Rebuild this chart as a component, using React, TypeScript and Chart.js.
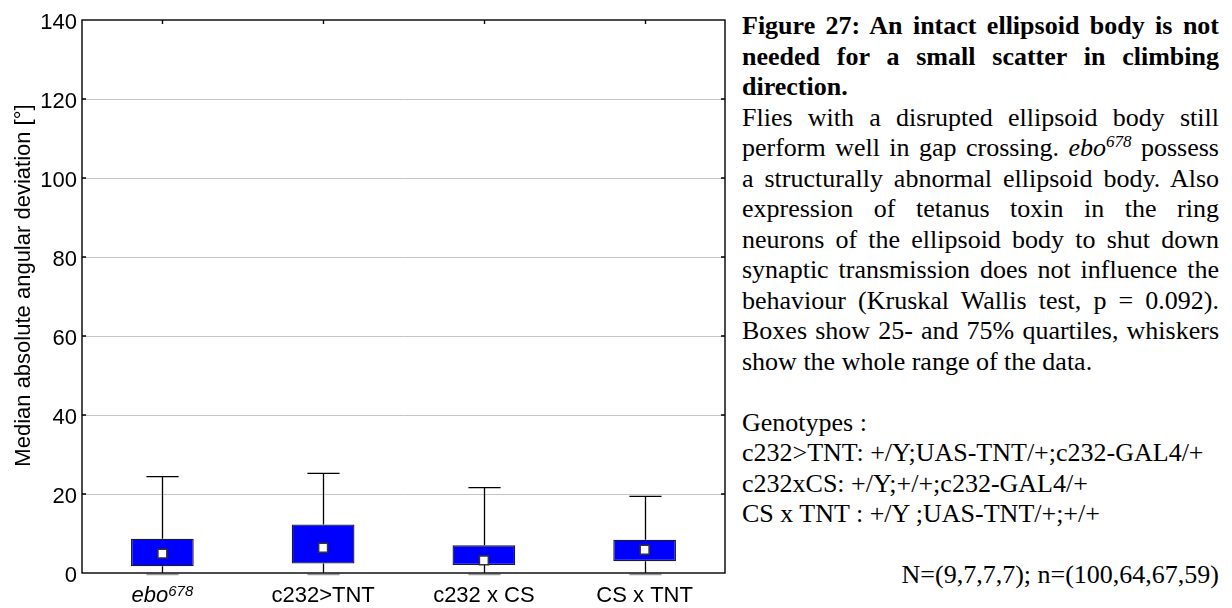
import React, { useEffect, useRef } from "react";
import { Chart, registerables } from "chart.js";

Chart.register(...registerables);

// ---------- data ----------
const categories = ["ebo678", "c232>TNT", "c232 x CS", "CS x TNT"];
const whiskerMin = [0, 0, 0, 0];
const quartile1 = [1.7, 2.4, 2.0, 3.0];
const medians = [4.9, 6.4, 3.2, 5.9];
const quartile3 = [8.7, 12.3, 7.0, 8.4];
const whiskerMax = [24.4, 25.2, 21.6, 19.4];
const yTicks = [0, 20, 40, 60, 80, 100, 120, 140];
const yAxisTitle = "Median absolute angular deviation [°]";

const captionTitle = [
  "Figure 27: An intact ellipsoid body is not",
  "needed for a small scatter in climbing",
  "direction.",
];
const captionBody = [
  "Flies with a disrupted ellipsoid body still",
  "perform well in gap crossing. |ebo|678| possess",
  "a structurally abnormal ellipsoid body. Also",
  "expression of tetanus toxin in the ring",
  "neurons of the ellipsoid body to shut down",
  "synaptic transmission does not influence the",
  "behaviour (Kruskal Wallis test, p = 0.092).",
  "Boxes show 25- and 75% quartiles, whiskers",
];
const captionBodyLast = "show the whole range of the data.";
const genotypeLines = [
  "Genotypes :",
  "c232>TNT: +/Y;UAS-TNT/+;c232-GAL4/+",
  "c232xCS: +/Y;+/+;c232-GAL4/+",
  "CS x TNT : +/Y ;UAS-TNT/+;+/+",
];
const sampleSizes = "N=(9,7,7,7); n=(100,64,67,59)";

const SANS = '"Liberation Sans", Arial, Helvetica, sans-serif';
const SERIF = '"Liberation Serif", "Times New Roman", Times, serif';

const whiskerPlugin = {
  id: "whiskers",
  beforeDatasetsDraw(chart: any) {
    const { ctx } = chart;
    const x = chart.scales.x;
    const y = chart.scales.y;
    const capHalf = (x.width / categories.length) * 0.1;
    ctx.save();
    categories.forEach((_, i) => {
      const px = Math.round(x.getPixelForValue(i)) + 0.5;
      ctx.strokeStyle = "#000";
      ctx.lineWidth = 1.3;
      ctx.beginPath();
      ctx.moveTo(px, y.getPixelForValue(whiskerMin[i]));
      ctx.lineTo(px, y.getPixelForValue(quartile1[i]));
      ctx.moveTo(px, y.getPixelForValue(quartile3[i]));
      ctx.lineTo(px, y.getPixelForValue(whiskerMax[i]));
      const yMax = y.getPixelForValue(whiskerMax[i]);
      ctx.moveTo(px - capHalf, yMax);
      ctx.lineTo(px + capHalf, yMax);
      ctx.stroke();
      const yMin = y.getPixelForValue(whiskerMin[i]) + 1.5;
      ctx.strokeStyle = "#9a9a9a";
      ctx.lineWidth = 1.5;
      ctx.beginPath();
      ctx.moveTo(px - capHalf, yMin);
      ctx.lineTo(px + capHalf, yMin);
      ctx.stroke();
    });
    ctx.restore();
  },
};

const framePlugin = {
  id: "frame",
  afterDraw(chart: any) {
    const { ctx, chartArea } = chart;
    const { left, right, top, bottom } = chartArea;
    const x = chart.scales.x;
    const y = chart.scales.y;
    ctx.save();
    ctx.strokeStyle = "#000";
    ctx.lineWidth = 1.4;
    ctx.strokeRect(left, top, right - left, bottom - top);
    ctx.beginPath();
    categories.forEach((_, i) => {
      const px = Math.round(x.getPixelForValue(i)) + 0.5;
      ctx.moveTo(px, top);
      ctx.lineTo(px, top + 4);
    });
    yTicks.forEach((v) => {
      if (v <= 0 || v >= 140) return;
      const py = y.getPixelForValue(v);
      ctx.moveTo(right, py);
      ctx.lineTo(right - 4, py);
      ctx.moveTo(left, py);
      ctx.lineTo(left + 4, py);
    });
    ctx.stroke();

    // category labels
    ctx.fillStyle = "#000";
    ctx.textBaseline = "alphabetic";
    const baseY = 602;
    categories.forEach((label, i) => {
      const px = x.getPixelForValue(i);
      if (i === 0) {
        const main = label.slice(0, 3);
        const sup = label.slice(3);
        ctx.font = `italic 22px ${SANS}`;
        const w1 = ctx.measureText(main).width;
        ctx.font = `italic 15px ${SANS}`;
        const w2 = ctx.measureText(sup).width;
        const start = px - (w1 + w2) / 2;
        ctx.textAlign = "left";
        ctx.font = `italic 22px ${SANS}`;
        ctx.fillText(main, start, baseY);
        ctx.font = `italic 15px ${SANS}`;
        ctx.fillText(sup, start + w1, baseY - 6);
      } else {
        ctx.font = `22px ${SANS}`;
        ctx.textAlign = "center";
        ctx.fillText(label, px, baseY);
      }
    });

    // y axis title
    ctx.translate(24, 285.5);
    ctx.rotate(-Math.PI / 2);
    ctx.font = `22px ${SANS}`;
    ctx.textAlign = "center";
    ctx.textBaseline = "middle";
    ctx.fillText(yAxisTitle, 0, 0);
    ctx.restore();
  },
};

function ChartPanel() {
  const ref = useRef<HTMLCanvasElement | null>(null);
  useEffect(() => {
    if (!ref.current) return;
    const chart = new Chart(ref.current, {
      type: "bar",
      data: {
        labels: categories,
        datasets: [
          {
            type: "line",
            label: "median",
            data: medians,
            showLine: false,
            pointStyle: "rect",
            pointRadius: 6.3,
            pointHoverRadius: 6.3,
            pointBackgroundColor: "#ffffff",
            pointBorderColor: "#333333",
            pointBorderWidth: 1.5,
            order: 1,
          } as any,
          {
            type: "bar",
            label: "quartiles",
            data: quartile1.map((v, i) => [v, quartile3[i]]),
            backgroundColor: "#0000ff",
            borderColor: "#1a1a33",
            borderWidth: 1.3,
            borderSkipped: false,
            categoryPercentage: 0.39,
            barPercentage: 1,
            order: 2,
          } as any,
        ],
      },
      options: {
        responsive: false,
        animation: false,
        layout: { padding: { left: 0, right: 15, top: 20, bottom: 0 } },
        plugins: { legend: { display: false }, tooltip: { enabled: false } },
        scales: {
          x: {
            type: "category",
            offset: true,
            grid: { display: false },
            border: { display: false },
            ticks: { display: false },
            afterFit: (s: any) => {
              s.height = 35;
            },
          },
          y: {
            min: 0,
            max: 140,
            afterBuildTicks: (s: any) => {
              s.ticks = yTicks.map((v) => ({ value: v }));
            },
            grid: {
              color: (c: any) =>
                c.tick && (c.tick.value === 0 || c.tick.value === 140)
                  ? "rgba(0,0,0,0)"
                  : "#c4c4c4",
              lineWidth: 1,
              drawTicks: false,
            },
            border: { display: false },
            ticks: {
              font: { family: SANS, size: 22 },
              color: "#000",
              padding: 5,
              labelOffset: 3,
            },
            afterFit: (s: any) => {
              s.width = 82;
            },
          },
        },
      },
      plugins: [whiskerPlugin, framePlugin],
    } as any);
    return () => chart.destroy();
  }, []);
  return <canvas ref={ref} width={740} height={608} style={{ display: "block" }} />;
}

const justified: React.CSSProperties = {
  textAlign: "justify",
  textAlignLast: "justify" as any,
  whiteSpace: "nowrap",
};

function renderBodyLine(line: string) {
  if (!line.includes("|")) return line;
  const [a, it, sup, b] = line.split("|");
  return (
    <>
      {a}
      <i>{it}</i>
      <sup style={{ fontStyle: "italic", fontSize: "17px", verticalAlign: "9px", lineHeight: 0 }}>{sup}</sup>
      {b}
    </>
  );
}

export default function App() {
  useEffect(() => {
    document.body.style.margin = "0";
  }, []);
  return (
    <div style={{ position: "relative", width: 1232, height: 608, background: "#fff", overflow: "hidden" }}>
      <div style={{ position: "absolute", left: 0, top: 0 }}>
        <ChartPanel />
      </div>
      <div
        style={{
          position: "absolute",
          left: 742,
          top: 11,
          width: 477,
          fontFamily: SERIF,
          fontSize: "26px",
          lineHeight: "30.5px",
          color: "#000",
        }}
      >
        {captionTitle.map((l, i) => (
          <div
            key={"t" + i}
            style={i < captionTitle.length - 1 ? { ...justified, fontWeight: "bold" } : { fontWeight: "bold" }}
          >
            {l}
          </div>
        ))}
        {captionBody.map((l, i) => (
          <div key={"b" + i} style={justified}>
            {renderBodyLine(l)}
          </div>
        ))}
        <div>{captionBodyLast}</div>
        <div>&nbsp;</div>
        {genotypeLines.map((l, i) => (
          <div key={"g" + i} style={{ whiteSpace: "nowrap" }}>
            {l}
          </div>
        ))}
        <div>&nbsp;</div>
        <div style={{ textAlign: "right" }}>{sampleSizes}</div>
      </div>
    </div>
  );
}
